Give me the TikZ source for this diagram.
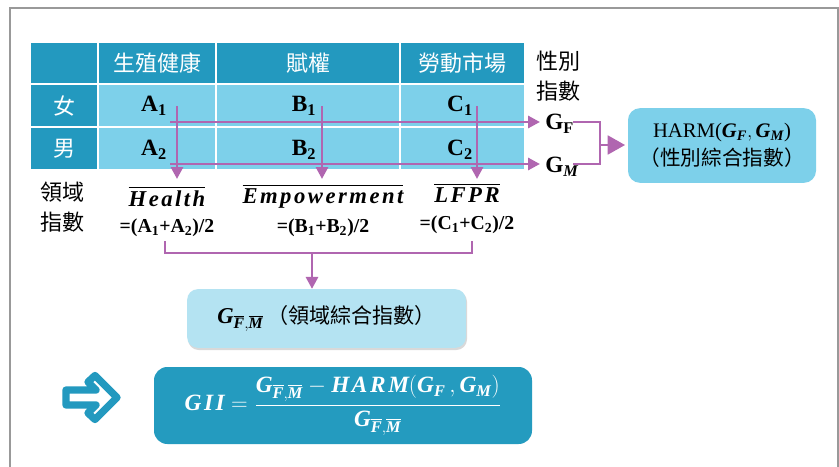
\documentclass[tikz,border=0pt]{standalone}
\usepackage{fontspec}
\usepackage{amsmath}
\setmainfont{Liberation Serif}
\newfontfamily\cjk{Noto Sans CJK TC}
\newfontfamily\wideserif{Liberation Serif}[LetterSpace=11]
\usetikzlibrary{arrows.meta}
\definecolor{tealdark}{HTML}{2399BF}
\definecolor{cellblue}{HTML}{7DD0EA}
\definecolor{paleblue}{HTML}{B4E3F2}
\definecolor{gbox}{HTML}{249BBF}
\definecolor{purp}{HTML}{B066B0}
\newcommand\bix[1]{{\wideserif\bfseries\itshape #1}}
\newcommand\bsub[1]{\text{\bfseries #1}}
\newcommand\Gfm{\text{\bix{G}}_{\overline{\text{\bix{F}}},\overline{\text{\bix{M}}}}}
\begin{document}
\begin{tikzpicture}[x=0.75pt,y=-0.75pt,
  hdr/.style={fill=tealdark,draw=white,line width=1.5pt},
  dat/.style={fill=cellblue,draw=white,line width=1.5pt},
  hdrtxt/.style={text=white,font=\cjk\fontsize{16.5}{20}\selectfont,inner sep=0pt},
  val/.style={font=\fontsize{17.5}{20}\selectfont\bfseries,inner sep=0pt},
  lbl/.style={font=\cjk\fontsize{16.5}{22}\selectfont,align=left,inner sep=0pt},
  idx/.style={font=\fontsize{17}{20}\selectfont,inner sep=0pt},
  frm/.style={font=\fontsize{14.8}{16}\selectfont\bfseries,inner sep=0pt},
  parr/.style={draw=purp,line width=2.2pt,-{Triangle[length=9pt,width=9pt]}},
  pline/.style={draw=purp,line width=2.2pt},
]
\useasboundingbox (0,0) rectangle (839,467);
\fill[white] (0,0) rectangle (839,467);
% frame
\draw[gray!80,line width=1.2pt] (10,470) -- (10,8) -- (838,8) -- (838,470);
% table
\path[hdr] (30,42) rectangle (98,84);
\path[hdr] (98,42) rectangle (216,84);
\path[hdr] (216,42) rectangle (400,84);
\path[hdr] (400,42) rectangle (525,84);
\path[hdr] (30,84) rectangle (98,127);
\path[hdr] (30,127) rectangle (98,170);
\path[dat] (98,84) rectangle (216,127);
\path[dat] (216,84) rectangle (400,127);
\path[dat] (400,84) rectangle (525,127);
\path[dat] (98,127) rectangle (216,170);
\path[dat] (216,127) rectangle (400,170);
\path[dat] (400,127) rectangle (525,170);
\node[hdrtxt] (h1) at (157,63) {生殖健康};
\node[hdrtxt] (h2) at (308,63) {賦權};
\node[hdrtxt] (h3) at (462,63) {勞動市場};
\node[hdrtxt] (f) at (64,106) {女};
\node[hdrtxt] (m) at (64,149) {男};
\node[val] (a1) at (154,106) {A\textsubscript{1}};
\node[val] (b1) at (304,106) {B\textsubscript{1}};
\node[val] (c1) at (460,106) {C\textsubscript{1}};
\node[val] (a2) at (154,150) {A\textsubscript{2}};
\node[val] (b2) at (304,150) {B\textsubscript{2}};
\node[val] (c2) at (460,150) {C\textsubscript{2}};
% labels
\node[lbl] (gl) at (558,76) {性別\\指數};
\node[lbl] (dl) at (62,207) {領域\\指數};
\node[idx] (hl) at (167,196) {$\overline{\hbox{\bix{Health}}}$};
\node[idx] (em) at (323,196) {$\overline{\hbox{\bix{Empowerment}}}$};
\node[idx] (lf) at (467,193) {$\overline{\hbox{\bix{LFPR}}}$};
\node[frm] (fa) at (167,228) {=(A\textsubscript{1}+A\textsubscript{2})/2};
\node[frm] (fb) at (323,228) {=(B\textsubscript{1}+B\textsubscript{2})/2};
\node[frm] (fc) at (467,225) {=(C\textsubscript{1}+C\textsubscript{2})/2};
\node[val,anchor=west] (gf) at (545,124) {G$_{\bsub{F}}$};
\node[val,anchor=west] (gm) at (545,167) {G$_{\text{\bfseries\itshape M}}$};
% purple arrows
\coordinate (vA1) at (177,106); \coordinate (vA2) at (177,179);
\coordinate (vB1) at (322,106); \coordinate (vB2) at (322,179);
\coordinate (vC1) at (477,106); \coordinate (vC2) at (477,179);
\coordinate (hF1) at (170,122); \coordinate (hF2) at (540,122);
\coordinate (hM1) at (170,164); \coordinate (hM2) at (540,164);
\draw[parr] (hF1) -- (hF2);
\draw[parr] (hM1) -- (hM2);
\draw[parr] (vA1) -- (vA2);
\draw[parr] (vB1) -- (vB2);
\draw[parr] (vC1) -- (vC2);
% bracket to HARM
\coordinate (bF) at (573,122); \coordinate (bM) at (573,164);
\coordinate (bF2) at (600,122); \coordinate (bM2) at (600,164);
\coordinate (bmid) at (599,145);
\draw[pline] (bF) -- (bF2) -- (bM2) -- (bM);
\node[fill=cellblue,rounded corners=9pt,minimum width=141pt,minimum height=56pt,inner sep=0pt,align=center,
  font=\fontsize{15.5}{21}\selectfont] (harm) at (722,145.5)
  {HARM($\text{\bix{G}}_{\text{\bix{F}}},\text{\bix{G}}_{\text{\bix{M}}}$)\\{\cjk （性別綜合指數）}};
\draw[draw=purp,line width=2.2pt,-{Triangle[length=13pt,width=14pt]}] (bmid) -- ([xshift=-2pt]harm.west |- bmid);
% bottom bracket
\coordinate (dA) at (165,241); \coordinate (dA2) at (165,253);
\coordinate (dC) at (472,241); \coordinate (dC2) at (472,253);
\coordinate (dmid) at (312,253);
\draw[pline] (dA) -- (dA2) -- (dC2) -- (dC);
% G box
\fill[gray!30,rounded corners=8pt] (188,291) rectangle (467,350);
\node[fill=paleblue,rounded corners=8pt,minimum width=209pt,minimum height=44pt,inner sep=0pt,
  font=\fontsize{17}{18}\selectfont] (gbx) at (326.5,318.5)
  {$\Gfm$\,{\cjk\fontsize{15.8}{18}\selectfont （領域綜合指數）}};
\draw[parr] (dmid) -- (dmid |- gbx.north);
% GII box
\node[fill=gbox,rounded corners=10pt,minimum width=283.5pt,minimum height=57.75pt,inner sep=0pt,text=white,
  font=\fontsize{17.5}{20}\selectfont] (gii) at (343,405.5)
  {$\text{\bix{GII}} = \dfrac{\Gfm - \text{\bix{HARM}}(\text{\bix{G}}_{\text{\bix{F}}}\,,\text{\bix{G}}_{\text{\bix{M}}})}{\Gfm}$};
% arrow icon
\draw[tealdark,line width=5.5pt,line join=round,fill=white]
  (66,390) -- (96,390) -- (88,382) -- (95,375.5) -- (117,397.5) -- (95,419.5) -- (88,413) -- (96,405) -- (66,405) -- cycle;
\end{tikzpicture}
\end{document}
